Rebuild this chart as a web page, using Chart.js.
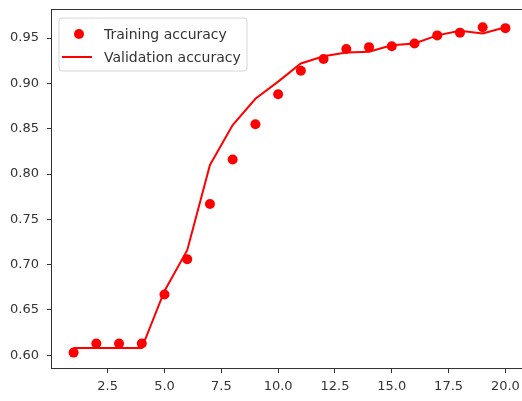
<!DOCTYPE html>
<html lang="en">
<head>
    <meta charset="UTF-8">
    <title>Accuracy Chart</title>
    <script src="https://cdn.jsdelivr.net/npm/chart.js"></script>
    <style>
        html, body { margin: 0; padding: 0; overflow: hidden; background: #fff; }
    </style>
</head>
<body>
    <!-- training / validation accuracy per epoch -->
    <canvas id="accuracyChart" width="532" height="401"></canvas>

<script>
    // epochs on the x axis
    const epochs = [1, 2, 3, 4, 5, 6, 7, 8, 9, 10, 11, 12, 13, 14, 15, 16, 17, 18, 19, 20];
    // training accuracy (dots)
    const trainingAccuracy = [0.603, 0.613, 0.613, 0.613, 0.667, 0.706, 0.767, 0.816, 0.855, 0.888,
                              0.914, 0.927, 0.938, 0.940, 0.941, 0.944, 0.953, 0.956, 0.962, 0.961];
    // validation accuracy (line)
    const validationAccuracy = [0.608, 0.608, 0.608, 0.608, 0.671, 0.716, 0.810, 0.854, 0.883, 0.902,
                                0.922, 0.930, 0.934, 0.935, 0.942, 0.944, 0.953, 0.958, 0.955, 0.962];
    // tick labels
    const xTicks = [2.5, 5.0, 7.5, 10.0, 12.5, 15.0, 17.5, 20.0];
    const yTicks = [0.60, 0.65, 0.70, 0.75, 0.80, 0.85, 0.90, 0.95];

    const axisColor = '#333';
    const tickFont = { family: 'DejaVu Sans', size: 13 };

    // box around the plot area
    const frame = {
        id: 'frame',
        afterDatasetsDraw(chart) {
            const a = chart.chartArea;
            const ctx = chart.ctx;
            ctx.save();
            ctx.strokeStyle = axisColor;
            ctx.lineWidth = 1;
            ctx.strokeRect(Math.round(a.left) - 0.5, Math.round(a.top) - 0.5,
                           Math.round(a.right - a.left) + 1, Math.round(a.bottom - a.top) + 1);
            ctx.restore();
        }
    };

    // legend box in the upper left corner
    const cornerLegend = {
        id: 'cornerLegend',
        afterDraw(chart) {
            const ctx = chart.ctx;
            const a = chart.chartArea;
            const x = a.left + 7, y = a.top + 8, w = 188, h = 53;
            ctx.save();
            ctx.beginPath();
            ctx.roundRect(x, y, w, h, 3);
            ctx.fillStyle = 'rgba(255,255,255,0.8)';
            ctx.fill();
            ctx.strokeStyle = '#d6d6d6';
            ctx.lineWidth = 1;
            ctx.stroke();

            const ds = chart.data.datasets;
            ctx.font = '14px "DejaVu Sans"';
            ctx.textBaseline = 'middle';

            // training: dot marker
            ctx.beginPath();
            ctx.arc(x + 20, y + 16, 5, 0, Math.PI * 2);
            ctx.fillStyle = ds[0].backgroundColor;
            ctx.fill();
            ctx.fillStyle = '#333';
            ctx.fillText(ds[0].label, x + 45, y + 17);

            // validation: line marker
            ctx.beginPath();
            ctx.moveTo(x + 3, y + 39);
            ctx.lineTo(x + 33, y + 39);
            ctx.strokeStyle = ds[1].borderColor;
            ctx.lineWidth = 2;
            ctx.stroke();
            ctx.fillText(ds[1].label, x + 45, y + 40);
            ctx.restore();
        }
    };

    const ctx = document.getElementById('accuracyChart').getContext('2d');
    new Chart(ctx, {
        type: 'scatter',
        data: {
            datasets: [
                {
                    label: 'Training accuracy',
                    data: epochs.map((e, i) => ({ x: e, y: trainingAccuracy[i] })),
                    backgroundColor: '#ff0000',
                    borderColor: '#ff0000',
                    pointRadius: 5,
                    borderWidth: 0,
                    showLine: false
                },
                {
                    label: 'Validation accuracy',
                    data: epochs.map((e, i) => ({ x: e, y: validationAccuracy[i] })),
                    borderColor: '#ff0000',
                    backgroundColor: '#ff0000',
                    borderWidth: 2,
                    pointRadius: 0,
                    showLine: true
                }
            ]
        },
        options: {
            responsive: false,
            animation: false,
            layout: { padding: { top: 10, right: 2, left: 0, bottom: 0 } },
            plugins: {
                legend: { display: false },
                tooltip: { enabled: false }
            },
            scales: {
                x: {
                    type: 'linear',
                    min: 0.05,
                    max: 20.95,
                    afterBuildTicks: scale => { scale.ticks = xTicks.map(v => ({ value: v })); },
                    afterFit: scale => {
                        scale.height = 33;
                        scale.paddingLeft = 0;
                        scale.paddingRight = 0;
                    },
                    grid: { drawOnChartArea: false, tickLength: 5, color: axisColor },
                    border: { display: false },
                    ticks: {
                        color: '#333',
                        font: tickFont,
                        padding: 6,
                        maxRotation: 0,
                        callback: v => v.toFixed(1)
                    }
                },
                y: {
                    type: 'linear',
                    min: 0.586,
                    max: 0.981,
                    afterBuildTicks: scale => { scale.ticks = yTicks.map(v => ({ value: v })); },
                    afterFit: scale => {
                        scale.width = 52;
                        scale.paddingTop = 0;
                        scale.paddingBottom = 0;
                    },
                    grid: { drawOnChartArea: false, tickLength: 5, color: axisColor },
                    border: { display: false },
                    ticks: {
                        color: '#333',
                        font: tickFont,
                        padding: 8,
                        callback: v => v.toFixed(2)
                    }
                }
            }
        },
        plugins: [frame, cornerLegend]
    });
</script>
</body>
</html>
